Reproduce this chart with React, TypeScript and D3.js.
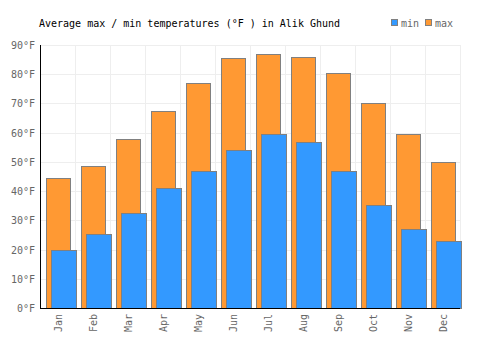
import React, { useEffect, useRef } from 'react';
import * as d3 from 'd3';

const months = ['Jan', 'Feb', 'Mar', 'Apr', 'May', 'Jun', 'Jul', 'Aug', 'Sep', 'Oct', 'Nov', 'Dec'];
const maxTemps = [44.5, 48.5, 57.8, 67.5, 77, 85.4, 86.8, 85.8, 80.3, 70, 59.5, 49.9];
const minTemps = [19.8, 25.2, 32.5, 41, 46.8, 54, 59.4, 56.8, 46.8, 35.1, 26.9, 22.8];
const yTicks = [0, 10, 20, 30, 40, 50, 60, 70, 80, 90];

const W = 500;
const H = 350;
const FONT = '"DejaVu Sans Mono", monospace';

const App: React.FC = () => {
  const svgRef = useRef<SVGSVGElement>(null);

  useEffect(() => {
    if (!svgRef.current) return;
    const svg = d3.select(svgRef.current);
    svg.selectAll('*').remove();

    const left = 40, right = 460, top = 45, bottom = 308;

    const x = d3.scaleBand().domain(months).range([left, right]);
    const y = d3.scaleLinear().domain([0, 90]).range([bottom, top]);
    const bw = x.bandwidth();

    // grid
    const grid = svg.append('g').attr('stroke', '#eeeeee').attr('stroke-width', 1);
    yTicks.forEach(t => {
      grid.append('line')
        .attr('x1', left).attr('x2', right)
        .attr('y1', Math.round(y(t)) + 0.5).attr('y2', Math.round(y(t)) + 0.5);
    });
    months.forEach((m, i) => {
      const gx = Math.round((x(m) as number) + bw) + 0.5;
      grid.append('line')
        .attr('x1', gx).attr('x2', gx)
        .attr('y1', top).attr('y2', bottom);
    });

    // max bars
    svg.append('g').selectAll('rect')
      .data(maxTemps)
      .enter()
      .append('rect')
      .attr('x', (d, i) => Math.round((x(months[i]) as number) + bw * 0.17) + 0.5)
      .attr('y', d => Math.round(y(d)) + 0.5)
      .attr('width', Math.round(bw * 0.68))
      .attr('height', d => bottom - Math.round(y(d)))
      .attr('fill', '#ff9933')
      .attr('stroke', '#808080')
      .attr('stroke-width', 1);

    // min bars
    svg.append('g').selectAll('rect')
      .data(minTemps)
      .enter()
      .append('rect')
      .attr('x', (d, i) => Math.round((x(months[i]) as number) + bw * 0.31) + 0.5)
      .attr('y', d => Math.round(y(d)) + 0.5)
      .attr('width', Math.round(bw * 0.71))
      .attr('height', d => bottom - Math.round(y(d)))
      .attr('fill', '#3399ff')
      .attr('stroke', '#808080')
      .attr('stroke-width', 1);

    // axes
    svg.append('line')
      .attr('x1', left + 0.5).attr('x2', left + 0.5)
      .attr('y1', top).attr('y2', bottom + 1)
      .attr('stroke', '#000');
    svg.append('line')
      .attr('x1', left).attr('x2', right)
      .attr('y1', bottom + 0.5).attr('y2', bottom + 0.5)
      .attr('stroke', '#000');

    // y tick labels
    svg.append('g').selectAll('text')
      .data(yTicks)
      .enter()
      .append('text')
      .attr('x', 35)
      .attr('y', d => y(d) + 4)
      .attr('text-anchor', 'end')
      .attr('fill', '#666')
      .style('font-family', FONT)
      .style('font-size', '10px')
      .text(d => `${d}°F`);

    // x labels
    svg.append('g').selectAll('text')
      .data(months)
      .enter()
      .append('text')
      .attr('transform', m => `translate(${(x(m) as number) + bw / 2 + 4},${bottom + 6}) rotate(-90)`)
      .attr('text-anchor', 'end')
      .attr('fill', '#666')
      .style('font-family', FONT)
      .style('font-size', '10px')
      .text(m => m);

    // title
    svg.append('text')
      .attr('x', 39)
      .attr('y', 27)
      .attr('fill', '#000')
      .style('font-family', FONT)
      .style('font-size', '10px')
      .text('Average max / min temperatures (°F ) in Alik Ghund');

    // legend
    const legend = [
      { label: 'min', color: '#3399ff', x: 391 },
      { label: 'max', color: '#ff9933', x: 425 },
    ];
    legend.forEach(l => {
      svg.append('rect')
        .attr('x', l.x + 0.5).attr('y', 19.5)
        .attr('width', 6).attr('height', 6)
        .attr('fill', l.color)
        .attr('stroke', '#808080');
      svg.append('text')
        .attr('x', l.x + 10)
        .attr('y', 27)
        .attr('fill', '#666')
        .style('font-family', FONT)
        .style('font-size', '10px')
        .text(l.label);
    });
  }, []);

  return (
    <div style={{ position: 'absolute', left: 0, top: 0, width: W, height: H, background: '#fff' }}>
      <svg ref={svgRef} width={W} height={H} style={{ display: 'block' }}></svg>
    </div>
  );
};

export default App;
